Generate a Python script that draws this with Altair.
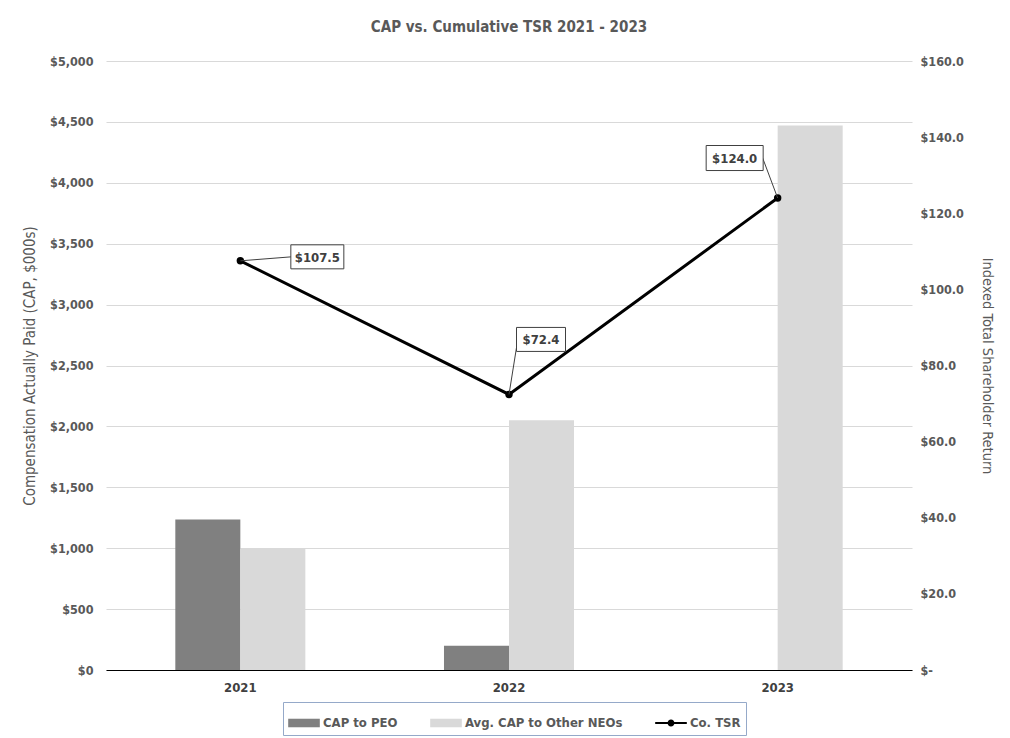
import altair as alt
import pandas as pd

years = ["2021", "2022", "2023"]
cap_peo = [1235, 200, 0]
cap_neo = [1000, 2050, 4470]
tsr = [107.5, 72.4, 124.0]
series_names = ["CAP to PEO", "Avg. CAP to Other NEOs", "Co. TSR"]
bar_colors = ["#808080", "#d9d9d9", "#000000"]
left_ticks = list(range(0, 5001, 500))
right_ticks = list(range(0, 161, 20))

bars_df = pd.DataFrame({
    "year": years * 2,
    "series": [series_names[0]] * 3 + [series_names[1]] * 3,
    "value": cap_peo + cap_neo,
})
line_df = pd.DataFrame({
    "year": years,
    "series": [series_names[2]] * 3,
    "tsr": tsr,
    "label": ["$%.1f" % v for v in tsr],
})

FONT = "'Liberation Sans Narrow', 'DejaVu Sans Condensed', 'DejaVu Sans', sans-serif"
TXT = "#595959"

x_enc = alt.X(
    "year:N", title=None,
    scale=alt.Scale(paddingInner=0.516, paddingOuter=0.258),
    axis=alt.Axis(labelAngle=0, labelFontWeight="bold", labelColor="#404040",
                  labelFontSize=13, domainColor="#000000", ticks=False,
                  labelPadding=11),
)

rect_path = "M-1,-0.27L1,-0.27L1,0.27L-1,0.27Z"
line_sym = ("M-1,-0.07L-0.2,-0.07L-0.2,0.07L-1,0.07Z"
            "M0.2,-0.07L1,-0.07L1,0.07L0.2,0.07Z"
            "M0.22,0A0.22,0.22 0 1 1 -0.22,0A0.22,0.22 0 1 1 0.22,0Z")

legend_def = alt.Legend(
    title=None, orient="none", legendX=177, legendY=641,
    direction="horizontal", strokeColor="#95a9c9", fillColor="white",
    padding=5, labelFontSize=13, labelFontWeight="bold", labelColor=TXT,
    labelFont=FONT, symbolSize=1000, columnPadding=32, labelOffset=3,
    symbolStrokeWidth=0, symbolOpacity=1,
)
color_enc = alt.Color("series:N", scale=alt.Scale(domain=series_names, range=bar_colors),
                      legend=legend_def)
shape_enc = alt.Shape("series:N", scale=alt.Scale(domain=series_names,
                                                  range=[rect_path, rect_path, line_sym]),
                      legend=legend_def)

bars = alt.Chart(bars_df).mark_bar(opacity=1).encode(
    x=x_enc,
    xOffset=alt.XOffset("series:N", scale=alt.Scale(domain=series_names[:2], paddingInner=0, paddingOuter=0)),
    y=alt.Y("value:Q", scale=alt.Scale(domain=[0, 5000]),
            axis=alt.Axis(values=left_ticks, format="$,.0f",
                          title="Compensation Actually Paid  (CAP, $000s)",
                          grid=True, gridColor="#d9d9d9", domain=False, ticks=False,
                          labelPadding=13, titlePadding=12, labelFontWeight="bold",
                          labelColor=TXT, labelFontSize=12.5, titleFontSize=15,
                          titleFontWeight="normal", titleColor=TXT)),
    color=color_enc,
)

# legend-only layer (no visible data) so the legend gets per-series symbol shapes
legend_layer = alt.Chart(bars_df).transform_filter("false").mark_point(filled=True, opacity=1).encode(
    x=x_enc, color=color_enc, shape=shape_enc)

y_right = alt.Y("tsr:Q", scale=alt.Scale(domain=[0, 160]),
                axis=alt.Axis(orient="right", values=right_ticks,
                              labelExpr="datum.value == 0 ? '$-' : '$' + format(datum.value, '.1f')",
                              title="Indexed Total Shareholder Return", grid=False,
                              domain=False, ticks=False, labelPadding=8, titlePadding=16,
                              labelFontWeight="bold", labelColor=TXT, labelFontSize=12.5,
                              titleFontSize=14.5, titleFontWeight="normal", titleColor=TXT))

base = alt.Chart(line_df)
line = base.mark_line(strokeWidth=3, color="#000000").encode(x=x_enc, y=y_right)
pts = base.mark_point(filled=True, size=55, color="#000000", opacity=1).encode(x=x_enc, y=y_right)

# label callouts: (dx, dy, box w, box h, leader end dx, leader end dy)
callouts = [
    (77, -4, 53, 24, 51, -4),
    (32, -55, 49, 24, 8, -50),
    (-43, -40, 57, 25, -15, -40),
]
layers = [line, pts]
for i, (dx, dy, w, h, lx, ly) in enumerate(callouts):
    sub = base.transform_filter(alt.datum.year == years[i])
    layers.append(sub.mark_rule(color="#404040", strokeWidth=1, x2Offset=lx, y2Offset=ly).encode(
        x=x_enc, x2=alt.X2("year"),
        y=y_right, y2=alt.Y2("tsr")))
    hr = h / w
    box_path = "M-1,-%.3fL1,-%.3fL1,%.3fL-1,%.3fZ" % (hr, hr, hr, hr)
    layers.append(sub.mark_point(shape=box_path, size=w * w, filled=True, fill="white",
                                 stroke="#404040", strokeWidth=1, opacity=1,
                                 xOffset=dx, yOffset=dy).encode(x=x_enc, y=y_right))
    layers.append(sub.mark_text(fontSize=13, fontWeight="bold", color="#404040", font=FONT,
                                dx=dx, dy=dy + 1).encode(x=x_enc, y=y_right, text="label:N"))

line_layer = alt.layer(*layers)

chart = alt.layer(alt.layer(bars, legend_layer), line_layer).resolve_scale(y="independent").properties(
    width=806, height=609,
    padding={"left": 14, "top": 12, "right": 0, "bottom": 0},
    title=alt.Title("CAP vs. Cumulative TSR 2021 - 2023", fontSize=15, fontWeight="bold",
                    color=TXT, font=FONT, offset=20),
).configure(font=FONT).configure_view(stroke=None)

chart.save("out.html", embed_options={"renderer": "svg", "actions": False})
